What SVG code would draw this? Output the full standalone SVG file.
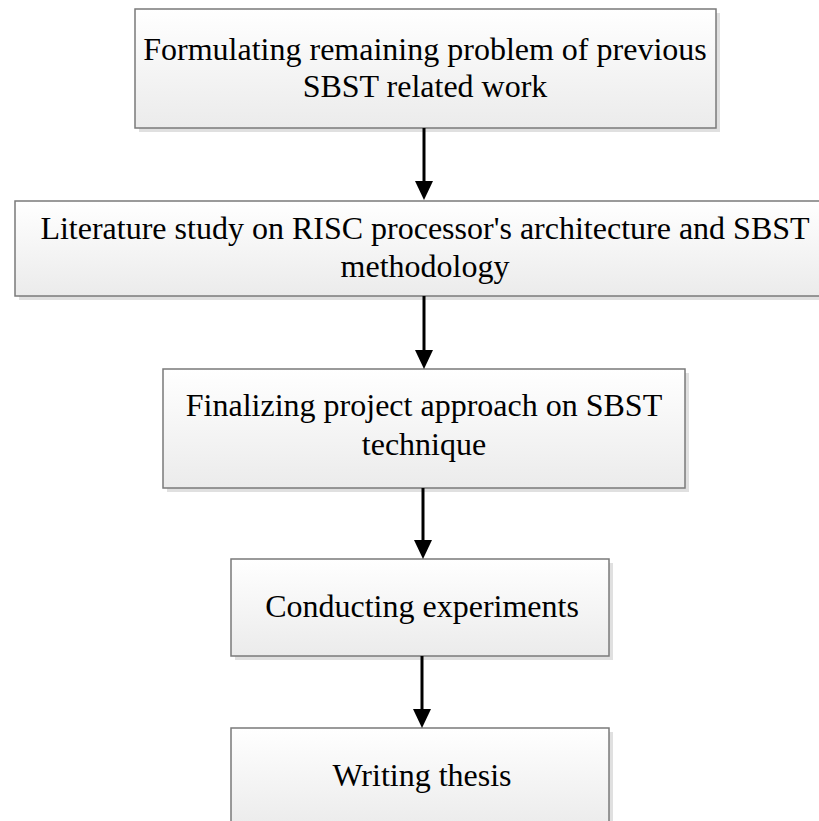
<svg xmlns="http://www.w3.org/2000/svg" width="819" height="821" viewBox="0 0 819 821">
<defs>
<linearGradient id="g" x1="0" y1="0" x2="0" y2="1">
<stop offset="0" stop-color="#ffffff"/>
<stop offset="1" stop-color="#ebebeb"/>
</linearGradient>
<style>
.sh{fill:#e0e0e0;}
.box{fill:url(#g);stroke:#7a7a7a;stroke-width:1.5;}
.t{font-family:"Liberation Serif","Times New Roman",serif;font-size:32px;fill:#000;text-anchor:middle;}
.ln{stroke:#000;stroke-width:3;fill:none;}
.hd{fill:#000;}
</style>
</defs>
<g id="n1">
<rect class="sh" x="139" y="13" width="581" height="119"/>
<rect class="box" x="135" y="9" width="581" height="119"/>
<text class="t" x="425" y="60">Formulating remaining problem of previous</text>
<text class="t" x="425" y="97">SBST related work</text>
</g>
<g id="n2">
<rect class="sh" x="19" y="205" width="810" height="95"/>
<rect class="box" x="15" y="201" width="810" height="95"/>
<text class="t" x="425" y="239">Literature study on RISC processor's architecture and SBST</text>
<text class="t" x="425" y="277">methodology</text>
</g>
<g id="n3">
<rect class="sh" x="167" y="373" width="522" height="119"/>
<rect class="box" x="163" y="369" width="522" height="119"/>
<text class="t" x="424" y="416">Finalizing project approach on SBST</text>
<text class="t" x="424" y="455">technique</text>
</g>
<g id="n4">
<rect class="sh" x="235" y="563" width="378" height="97"/>
<rect class="box" x="231" y="559" width="378" height="97"/>
<text class="t" x="422" y="617">Conducting experiments</text>
</g>
<g id="n5">
<rect class="sh" x="235" y="732" width="378" height="100"/>
<rect class="box" x="231" y="728" width="378" height="100"/>
<text class="t" x="422" y="786">Writing thesis</text>
</g>
<g id="connectors">
<line class="ln" x1="424" y1="128" x2="424" y2="182"/>
<path class="hd" d="M415,181 L433,181 L424,200 Z"/>
<line class="ln" x1="424" y1="296" x2="424" y2="351"/>
<path class="hd" d="M415,350 L433,350 L424,369 Z"/>
<line class="ln" x1="423" y1="488" x2="423" y2="541"/>
<path class="hd" d="M414,540 L432,540 L423,559 Z"/>
<line class="ln" x1="422" y1="656" x2="422" y2="710"/>
<path class="hd" d="M413,709 L431,709 L422,728 Z"/>
</g>
</svg>
